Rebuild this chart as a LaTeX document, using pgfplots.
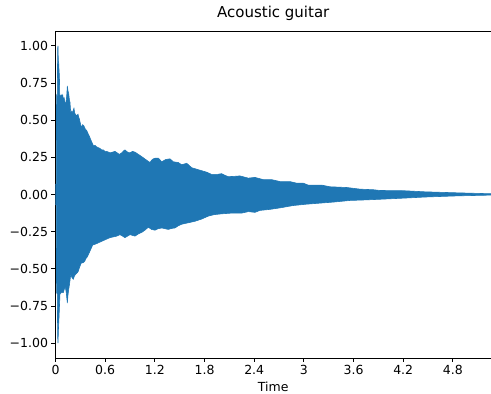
\documentclass[border=0pt]{standalone}
\usepackage{fontspec}
\setmainfont{DejaVu Sans}
\usepackage{pgfplots}
\pgfplotsset{compat=1.18}
\usepgfplotslibrary{fillbetween}
\definecolor{mplblue}{HTML}{1F77B4}
\begin{document}
\begin{tikzpicture}
\begin{axis}[
  scale only axis, width=435.5pt, height=327pt,
  xmin=0, xmax=5.26, ymin=-1.1, ymax=1.1,
  axis x line*=bottom, axis y line*=left,
  axis line style={line width=0.9pt, black},
  xtick={0,0.6,1.2,1.8,2.4,3,3.6,4.2,4.8},
  xticklabels={0,0.6,1.2,1.8,2.4,3,3.6,4.2,4.8},
  ytick={-1,-0.75,-0.5,-0.25,0,0.25,0.5,0.75,1},
  yticklabels={−1.00,−0.75,−0.50,−0.25,0.00,0.25,0.50,0.75,1.00},
  tick align=outside, major tick length=4pt,
  tick style={line width=0.9pt, black},
  ticklabel style={font=\fontsize{12.5}{14}\selectfont},
  title={Acoustic guitar},
  title style={font=\fontsize{15}{17}\selectfont, at={(0.5,1)}, anchor=base, yshift=7pt},
  xlabel={Time},
  xlabel style={font=\fontsize{12.5}{14}\selectfont, at={(0.5,0)}, anchor=base, yshift=-34pt},
]
\addplot[name path=U, draw=mplblue, line width=0.6pt] coordinates {
(0,0.07) (0.010,0.07) (0.013,0.67) (0.022,0.66) (0.026,0.98) (0.030,1.00) (0.034,0.90) (0.039,0.88)
(0.043,0.83) (0.047,0.80) (0.051,0.67) (0.060,0.66) (0.070,0.67) (0.080,0.66) (0.087,0.67) (0.095,0.64)
(0.104,0.65) (0.111,0.63) (0.120,0.60) (0.127,0.62) (0.135,0.66) (0.143,0.73) (0.150,0.70) (0.159,0.68)
(0.167,0.64) (0.175,0.62) (0.184,0.55) (0.191,0.56) (0.199,0.55) (0.210,0.56) (0.223,0.58) (0.231,0.55)
(0.239,0.54) (0.255,0.53) (0.272,0.54) (0.280,0.52) (0.287,0.51) (0.300,0.48) (0.312,0.45) (0.328,0.47)
(0.344,0.46) (0.360,0.44) (0.377,0.43) (0.393,0.41) (0.410,0.39) (0.425,0.37) (0.440,0.35) (0.457,0.33)
(0.478,0.33) (0.498,0.32) (0.517,0.315) (0.537,0.31) (0.557,0.30) (0.577,0.30) (0.598,0.29) (0.618,0.29)
(0.640,0.285) (0.658,0.28) (0.690,0.285) (0.719,0.29) (0.745,0.28) (0.771,0.27) (0.800,0.28) (0.825,0.295)
(0.839,0.30) (0.870,0.285) (0.900,0.28) (0.930,0.29) (0.960,0.285) (1.000,0.27) (1.041,0.255) (1.090,0.235)
(1.141,0.215) (1.160,0.23) (1.181,0.24) (1.210,0.245) (1.242,0.245) (1.283,0.22) (1.330,0.235) (1.383,0.24)
(1.423,0.22) (1.483,0.215) (1.524,0.20) (1.585,0.21) (1.645,0.18) (1.705,0.17) (1.766,0.16) (1.826,0.15)
(1.886,0.135) (1.950,0.135) (2.007,0.14) (2.050,0.128) (2.087,0.12) (2.160,0.122) (2.228,0.125) (2.329,0.11)
(2.409,0.115) (2.510,0.10) (2.611,0.10) (2.711,0.087) (2.832,0.087) (2.913,0.076) (2.993,0.076) (3.053,0.063)
(3.215,0.063) (3.315,0.052) (3.517,0.047) (3.678,0.036) (3.838,0.032) (3.919,0.027) (4.221,0.025) (4.462,0.018)
(4.865,0.011) (5.260,0.005)
};
\addplot[name path=L, draw=mplblue, line width=0.6pt] coordinates {
(0,-0.07) (0.010,-0.07) (0.013,-0.66) (0.022,-0.67) (0.026,-0.95) (0.030,-1.00) (0.036,-0.90) (0.042,-0.83)
(0.048,-0.75) (0.054,-0.67) (0.070,-0.66) (0.094,-0.66) (0.105,-0.64) (0.118,-0.62) (0.130,-0.66) (0.143,-0.73)
(0.150,-0.68) (0.159,-0.64) (0.170,-0.60) (0.184,-0.54) (0.200,-0.56) (0.215,-0.57) (0.227,-0.55) (0.239,-0.54)
(0.255,-0.53) (0.272,-0.52) (0.290,-0.49) (0.312,-0.46) (0.330,-0.46) (0.352,-0.45) (0.368,-0.43) (0.384,-0.42)
(0.400,-0.40) (0.417,-0.38) (0.433,-0.36) (0.449,-0.34) (0.475,-0.335) (0.498,-0.33) (0.537,-0.32) (0.577,-0.31)
(0.618,-0.30) (0.658,-0.29) (0.700,-0.285) (0.739,-0.28) (0.779,-0.27) (0.810,-0.28) (0.839,-0.29) (0.870,-0.28)
(0.900,-0.27) (0.930,-0.275) (0.960,-0.28) (1.000,-0.265) (1.041,-0.255) (1.080,-0.24) (1.121,-0.22) (1.160,-0.235)
(1.202,-0.24) (1.240,-0.23) (1.283,-0.225) (1.323,-0.23) (1.363,-0.235) (1.403,-0.228) (1.443,-0.225) (1.484,-0.21)
(1.524,-0.20) (1.564,-0.195) (1.604,-0.19) (1.685,-0.18) (1.766,-0.165) (1.846,-0.145) (1.920,-0.135) (2.007,-0.13)
(2.128,-0.125) (2.249,-0.125) (2.329,-0.115) (2.409,-0.12) (2.470,-0.107) (2.591,-0.10) (2.711,-0.09) (2.872,-0.074)
(3.033,-0.065) (3.194,-0.058) (3.355,-0.051) (3.557,-0.040) (3.758,-0.036) (3.919,-0.032) (4.221,-0.024) (4.462,-0.017)
(4.865,-0.009) (5.260,-0.004)
};
\addplot[mplblue] fill between[of=U and L];
\draw[line width=0.9pt, black] (rel axis cs:0,1) -- (rel axis cs:1,1);
\end{axis}
\pgfresetboundingbox
\path (-55.5pt,-36pt) rectangle (435.5pt,358pt);
\end{tikzpicture}
\end{document}
